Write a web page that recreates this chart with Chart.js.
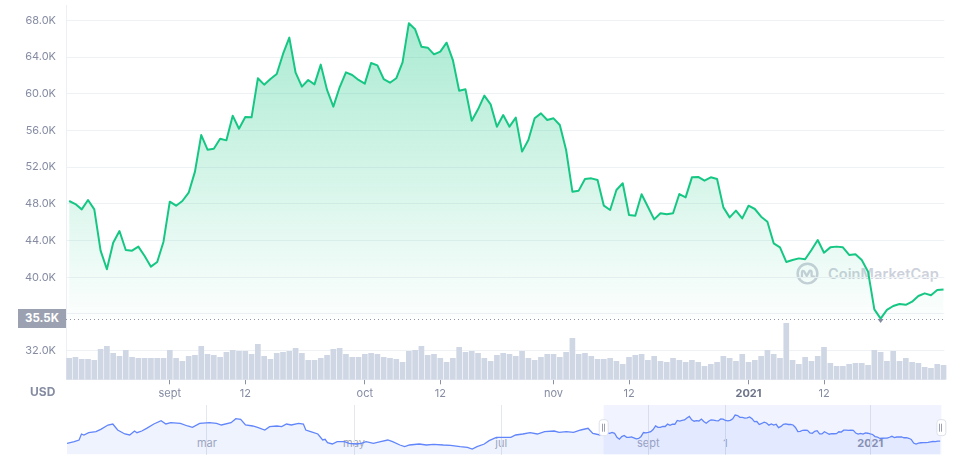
<!DOCTYPE html>
<html>
<head>
<meta charset="utf-8">
<script src="https://cdn.jsdelivr.net/npm/chart.js@4"></script>
<style>
html,body{margin:0;padding:0;background:#fff;width:975px;height:463px;overflow:hidden;font-family:Inter,"Noto Sans",sans-serif}
#wrap{position:relative;width:975px;height:463px}
#wm{position:absolute;left:796px;top:262px;height:22px;display:flex;align-items:center;color:#cdd1db;font:600 14.5px Inter,sans-serif;letter-spacing:0.1px}
#wm svg{margin-right:9px}
#main{position:absolute;left:0;top:0}
#nav{position:absolute;left:0;top:400px}
#usd{position:absolute;left:30px;top:384px;font:700 12px Inter,sans-serif;color:#858ca2}
#minlbl{position:absolute;left:18px;top:309px;width:48px;height:19px;background:#9ba1b1;color:#fff;font:700 11.5px Inter,sans-serif;text-align:center;line-height:19px}
.navlbl{position:absolute;top:436px;font:400 11px Inter,sans-serif;color:#a3a9b8;transform:translateX(-50%);white-space:nowrap;line-height:14px}
.navlbl.b{font-weight:700;color:#8d93a5}
</style>
</head>
<body>
<div id="wrap">
  <div id="wm"><svg width="23" height="23" viewBox="0 0 24 24"><circle cx="12" cy="12" r="10.3" fill="none" stroke="#cdd1db" stroke-width="2.6"/><path d="M6.2 15.5 V11 Q6.2 8.3 8.4 9.6 L11.2 14.6 L14.2 9.2 Q16.3 8.2 16.3 11 V14.2 Q16.6 16.4 18.6 15.2" fill="none" stroke="#cdd1db" stroke-width="2.4" stroke-linecap="round" stroke-linejoin="round"/></svg><span>CoinMarketCap</span></div>
  <canvas id="main" width="975" height="400"></canvas>
  <canvas id="nav" width="975" height="63"></canvas>
  <div id="usd">USD</div>
  <div id="minlbl"></div>
</div>
<script>
// ---- data (price in thousands of USD, volume in billions of USD) ----
const priceK = [
48.31,47.98,47.40,48.42,47.40,42.90,40.87,43.77,45.04,42.97,
42.90,43.34,42.32,41.16,41.67,43.88,48.24,47.80,48.31,49.22,
51.51,55.50,53.90,54.01,55.10,54.92,57.61,56.19,57.46,57.43,
61.68,60.99,61.60,62.15,64.33,66.11,62.29,60.77,61.50,61.02,
63.17,60.41,58.59,60.70,62.33,62.04,61.50,61.10,63.35,63.09,
61.60,61.20,61.68,63.42,67.67,67.02,65.13,65.02,64.29,64.58,
65.56,63.67,60.33,60.48,57.06,58.30,59.79,58.84,56.41,57.68,
56.41,57.39,53.69,54.96,57.32,57.86,57.14,57.32,56.59,53.87,
49.33,49.44,50.71,50.78,50.60,47.80,47.33,49.51,50.24,46.79,
46.71,49.04,47.69,46.31,46.97,46.86,46.97,49.07,48.71,50.89,
50.93,50.53,50.89,50.71,47.62,46.53,47.26,46.42,47.80,47.44,
46.60,46.06,43.70,43.26,41.67,41.88,42.06,41.96,42.97,44.06,
42.68,43.26,43.34,43.26,42.43,42.50,41.88,40.61,36.51,35.50,
36.44,36.87,37.09,37.00,37.34,37.96,38.25,38.04,38.61,38.68];
const volumeB = [
21,22,20,20,19,30,33,26,23,29,22,21,21,21,21,21,29,21,18,23,24,33,25,24,22,27,29,28,28,25,35,23,20,26,27,
28,31,26,19,19,21,24,30,31,25,22,22,25,26,25,22,21,20,17,28,29,33,24,25,21,17,21,32,27,28,26,21,18,24,26,
25,23,28,21,19,22,25,25,22,27,41,25,26,23,20,20,21,18,15,22,24,25,19,23,18,17,21,19,17,19,17,13,15,17,23,
21,18,25,17,19,23,29,25,21,56,19,15,22,18,23,32,16,13,13,15,16,16,14,29,27,18,28,18,21,17,16,12,11,15,14];
const xTickIdx = [16,28,47,59,77,89,108,120];
const xTickLabels = ['sept','12','oct','12','nov','12','2021','12'];
const yTicksK = [32,36,40,44,48,52,56,60,64,68];

// navigator (whole year), earlier part read from the overview strip
const navDays = [0,3,5,6,7,9,12,14,17,19,21,24,26,28,29,31,33,36,39,41,43,47,50,52,55,59,62,64,68,70,72,74,77,79,82,84,87,89,91,93,96,98,99,101,104,106,107,108,110,112,115,117,120,122,124,127,130,133,135,138,140,142,146,149,152,156,159,163,166,168,170,173,175,178,181,184,186,189,192,195,198,202,204,207,210,213,216,218,221];
const navPriceK = [36.24,38.09,39.94,46.59,45.48,48.07,49.18,51.77,56.58,57.69,51.03,46.59,45.48,49.92,48.07,49.92,52.88,57.69,61.38,57.69,59.17,58.43,55.47,53.99,58.43,59.17,58.43,56.58,59.17,63.60,62.86,56.58,55.47,53.99,51.03,54.73,55.47,54.73,57.69,56.58,58.43,57.69,51.03,49.18,46.59,39.94,40.68,36.98,35.50,38.09,38.09,36.24,35.50,36.24,38.09,36.24,38.09,39.94,38.09,34.39,32.54,34.39,35.50,34.39,35.13,34.39,34.02,32.54,31.80,29.95,32.54,35.50,39.20,42.90,42.90,42.90,45.48,46.59,48.07,46.59,49.18,49.92,48.44,49.18,48.44,51.03,52.88,47.33,45.48];
const mainStartDay = 223;
const navTickDays = [58,119,180,241,273,333];
const navTickLabels = ['mar','may','jul','sept','1','2021'];

// ---- chart ----
const FONT = 'Inter, "Noto Sans", sans-serif';
const lowK = Math.min(...priceK);
const lowIdx = priceK.indexOf(lowK);
const highK = Math.max(...priceK);
document.getElementById('minlbl').textContent = lowK.toFixed(1) + 'K';

function noPad(s) { s.paddingTop = 0; s.paddingBottom = 0; s.paddingLeft = 0; s.paddingRight = 0; }

const lowPlugin = {
  id: 'lowLine',
  beforeDatasetsDraw(ch) {
    const {ctx, chartArea: a, scales: {y}} = ch;
    const py = Math.round(y.getPixelForValue(lowK)) + 0.5;
    ctx.save();
    ctx.strokeStyle = '#8f96a8';
    ctx.lineWidth = 1;
    ctx.setLineDash([1, 3]);
    ctx.beginPath(); ctx.moveTo(a.left, py); ctx.lineTo(a.right, py); ctx.stroke();
    ctx.restore();
  },
  afterDatasetsDraw(ch) {
    const {ctx, scales: {x, y}} = ch;
    const px = x.getPixelForValue(lowIdx), py = y.getPixelForValue(lowK);
    ctx.save();
    ctx.fillStyle = '#858ca2';
    ctx.beginPath(); ctx.moveTo(px - 3, py + 0.5); ctx.lineTo(px + 3, py + 0.5); ctx.lineTo(px, py + 4.5); ctx.closePath(); ctx.fill();
    ctx.restore();
  },
  afterRender(ch) {
    const py = ch.scales.y.getPixelForValue(lowK);
    document.getElementById('minlbl').style.top = (py - 9.5) + 'px';
  }
};

new Chart(document.getElementById('main'), {
  type: 'bar',
  data: {
    datasets: [
      {
        type: 'line', yAxisID: 'y', order: 0,
        data: priceK.map((v, i) => ({x: i, y: v})),
        borderColor: '#16c784', borderWidth: 2, pointRadius: 0, tension: 0,
        borderJoinStyle: 'round',
        fill: {value: lowK},
        backgroundColor: (c) => {
          const ch = c.chart;
          if (!ch.chartArea) return 'rgba(22,199,132,0.1)';
          const ys = ch.scales.y;
          const g = ch.ctx.createLinearGradient(0, ys.getPixelForValue(highK), 0, ys.getPixelForValue(lowK));
          g.addColorStop(0, 'rgba(22,199,132,0.36)');
          g.addColorStop(1, 'rgba(22,199,132,0.01)');
          return g;
        }
      },
      {
        type: 'bar', yAxisID: 'vol', order: 1, clip: false,
        data: volumeB.map((v, i) => ({x: i, y: v})),
        backgroundColor: '#cfd6e4', barThickness: 5
      }
    ]
  },
  options: {
    responsive: false, animation: false, events: [],
    layout: {padding: {left: 0, right: 30.7, top: 5, bottom: 0}},
    plugins: {legend: {display: false}, tooltip: {enabled: false}},
    scales: {
      x: {
        type: 'linear', min: -0.5, max: 139.12, offset: false,
        afterBuildTicks: s => { s.ticks = xTickIdx.map(v => ({value: v})); },
        afterFit: s => { s.height = 20.7; noPad(s); },
        grid: {offset: false, drawOnChartArea: false, drawTicks: true, tickLength: 5, tickColor: '#8a91a3', tickWidth: 1},
        border: {display: true, color: '#eceff4'},
        ticks: {
          autoSkip: false, maxRotation: 0, padding: 3,
          callback: (v, i) => xTickLabels[i],
          font: c => ({family: FONT, size: 11, weight: xTickLabels[c.index] === '2021' ? 'bold' : 'normal'}),
          color: c => xTickLabels[c.index] === '2021' ? '#6d7488' : '#858ca2'
        }
      },
      y: {
        type: 'linear', position: 'left', min: 28.885, max: 69.667,
        afterBuildTicks: s => { s.ticks = yTicksK.map(v => ({value: v})); },
        afterFit: s => { s.width = 66; noPad(s); },
        grid: {color: '#eff2f5', drawTicks: false},
        border: {display: true, color: '#eceff4'},
        ticks: {
          padding: 10,
          callback: v => Math.abs(v - lowK) < 1 ? '' : v.toFixed(1) + 'K',
          font: {family: FONT, size: 11}, color: '#858ca2'
        }
      },
      vol: {type: 'linear', display: false, min: 0, max: 374.3}
    }
  },
  plugins: [lowPlugin]
});

// ---- navigator ----
const navData = navDays.map((d, i) => ({x: d, y: navPriceK[i]}))
  .concat(priceK.map((v, i) => ({x: mainStartDay + i, y: v})));

const navPlugin = {
  id: 'navSel',
  beforeDatasetsDraw(ch) {
    const {ctx, chartArea: a, scales: {x}} = ch;
    const x0 = x.getPixelForValue(mainStartDay - 0.5), x1 = x.getPixelForValue(mainStartDay + priceK.length - 0.5);
    ctx.save();
    ctx.fillStyle = 'rgba(97,133,250,0.09)';
    ctx.fillRect(x0, a.top, x1 - x0, a.bottom - a.top);
    ctx.restore();
  },
  afterDraw(ch) {
    const {ctx, scales: {x}} = ch;
    const xs = [x.getPixelForValue(mainStartDay - 0.5), x.getPixelForValue(mainStartDay + priceK.length - 0.5)];
    const cy = 27.7;
    ctx.save();
    xs.forEach(px => {
      const w = 9, h = 16, r = 3, l = px - w / 2, t = cy - h / 2;
      ctx.beginPath();
      ctx.moveTo(l + r, t); ctx.lineTo(l + w - r, t); ctx.quadraticCurveTo(l + w, t, l + w, t + r);
      ctx.lineTo(l + w, t + h - r); ctx.quadraticCurveTo(l + w, t + h, l + w - r, t + h);
      ctx.lineTo(l + r, t + h); ctx.quadraticCurveTo(l, t + h, l, t + h - r);
      ctx.lineTo(l, t + r); ctx.quadraticCurveTo(l, t, l + r, t); ctx.closePath();
      ctx.fillStyle = '#ffffff'; ctx.fill();
      ctx.strokeStyle = '#dde1ea'; ctx.lineWidth = 1; ctx.stroke();
      ctx.strokeStyle = '#9aa0b0';
      ctx.beginPath();
      ctx.moveTo(Math.round(px) - 1.5, cy - 4); ctx.lineTo(Math.round(px) - 1.5, cy + 4);
      ctx.moveTo(Math.round(px) + 0.5, cy - 4); ctx.lineTo(Math.round(px) + 0.5, cy + 4);
      ctx.stroke();
    });
    ctx.restore();
  },
  afterRender(ch) {
    const wrap = document.getElementById('wrap');
    if (wrap.querySelector('.navlbl')) return;
    const x = ch.scales.x;
    navTickDays.forEach((d, i) => {
      const el = document.createElement('div');
      el.className = 'navlbl' + (navTickLabels[i] === '2021' ? ' b' : '');
      el.textContent = navTickLabels[i];
      el.style.left = x.getPixelForValue(d) + 'px';
      wrap.insertBefore(el, document.getElementById('nav'));
    });
  }
};

new Chart(document.getElementById('nav'), {
  type: 'line',
  data: {
    datasets: [{
      data: navData,
      borderColor: 'rgb(97,133,250)', borderWidth: 1.3, pointRadius: 0, tension: 0,
      fill: 'start', backgroundColor: 'rgba(97,133,250,0.1)'
    }]
  },
  options: {
    responsive: false, animation: false, events: [],
    layout: {padding: {left: 67, right: 30, top: 5, bottom: 8.5}},
    plugins: {legend: {display: false}, tooltip: {enabled: false}},
    scales: {
      x: {
        type: 'linear', min: 0, max: 364,
        afterBuildTicks: s => { s.ticks = navTickDays.map(v => ({value: v})); },
        afterFit: s => { s.height = 0; noPad(s); },
        grid: {color: '#e4e7ee', drawTicks: false},
        border: {display: false},
        ticks: {display: false}
      },
      y: {type: 'linear', display: false, min: 23.85, max: 78.76}
    }
  },
  plugins: [navPlugin]
});
</script>
</body>
</html>
